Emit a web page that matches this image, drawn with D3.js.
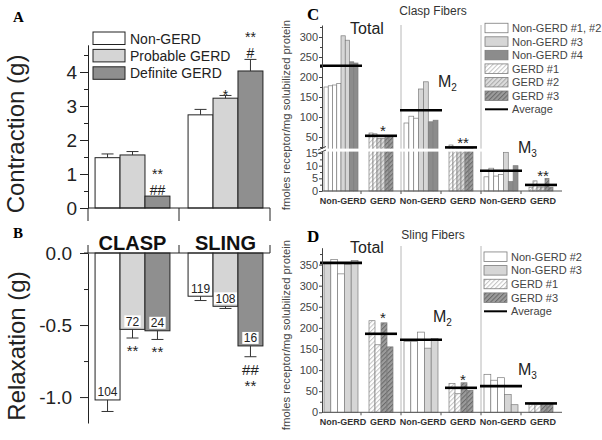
<!DOCTYPE html>
<html><head><meta charset="utf-8">
<script src="https://d3js.org/d3.v7.min.js"></script>
<style>html,body{margin:0;padding:0;background:#fff}svg{display:block}</style>
</head><body>
<svg id="chart" width="602" height="440"></svg>
<script>
// ===== Panels A & B data =====
const muscleGroups = ["CLASP", "SLING"];
const patientGroups = ["Non-GERD", "Probable GERD", "Definite GERD"];
const contractionClasp = [1.48, 1.56, 0.35];
const contractionSling = [2.74, 3.23, 4.03];
const contractionErrClasp = [0.11, 0.10, 0];
const contractionErrSling = [0.16, 0.08, 0.34];
const contractionSigClasp = [[], [], ["##", "**"]];
const contractionSigSling = [[], ["*"], ["#", "**"]];
const contractionTicks = [0, 1, 2, 3, 4];
const relaxationClasp = [-1.02, -0.53, -0.54];
const relaxationSling = [-0.30, -0.37, -0.645];
const relaxationErrClasp = [0.08, 0.06, 0.06];
const relaxationErrSling = [0.03, 0.015, 0.075];
const relaxationNClasp = [104, 72, 24];
const relaxationNSling = [119, 108, 16];
const relaxationSigClasp = [[], ["**"], ["**"]];
const relaxationSigSling = [[], [], ["##", "**"]];
const relaxationTicks = [0, -0.5, -1.0];

// ===== Panels C & D data =====
const fiberCategories = ["Total Non-GERD", "Total GERD", "M2 Non-GERD", "M2 GERD", "M3 Non-GERD", "M3 GERD"];
const fiberTickLabels = ["Non-GERD", "GERD", "Non-GERD", "GERD", "Non-GERD", "GERD"];

const claspLegend = ["Non-GERD #1, #2", "Non-GERD #3", "Non-GERD #4", "GERD #1", "GERD #2", "GERD #3"];
const claspTotalNonGerd = [175, 178, 180, 184, 303, 292, 238, 235];
const claspTotalNonGerdDonor = [0, 0, 0, 0, 1, 1, 2, 2];
const claspTotalGerd = [60, 58, 47, 47, 54, 54];
const claspM2NonGerd = [85, 102, 97, 170, 188, 88, 92];
const claspM2NonGerdDonor = [0, 0, 0, 1, 1, 2, 2];
const claspM2Gerd = [30, 23, 23, 22, 23, 22];
const claspM3NonGerd = [5.6, 9.0, 5.9, 6.5, 15.3, 3.7, 10.0];
const claspM3NonGerdDonor = [0, 0, 0, 0, 1, 2, 2];
const claspM3Gerd = [1.5, 4.0, 1.6, 1.6, 5.0, 1.5];
const claspGerdDonor = [3, 3, 4, 4, 5, 5];
const claspAverages = [228, 53, 117, 24, 8.0, 2.4];
const claspSig = ["", "*", "", "**", "", "**"];
const claspUpperTicks = [50, 100, 150, 200, 250, 300];
const claspLowerTicks = [0, 5, 10, 15];

const slingLegend = ["Non-GERD #2", "Non-GERD #3", "GERD #1", "GERD #3"];
const slingTotalNonGerd = [352, 362, 328, 350, 360];
const slingTotalNonGerdDonor = [1, 0, 0, 1, 1];
const slingTotalGerd = [217, 160, 212, 155];
const slingM2NonGerd = [168, 168, 190, 152, 175];
const slingM2NonGerdDonor = [0, 0, 0, 1, 1];
const slingM2Gerd = [68, 44, 70, 52];
const slingM3NonGerd = [90, 76, 82, 42, 18];
const slingM3NonGerdDonor = [0, 0, 0, 1, 1];
const slingM3Gerd = [19, 18, 21, 20];
const slingGerdDonor = [2, 2, 3, 3];
const slingAverages = [354, 186, 172, 58, 62, 21];
const slingSig = ["", "*", "", "*", "", ""];
const slingTicks = [0, 50, 100, 150, 200, 250, 300, 350];

// ===== drawing =====
const FONT = "'Liberation Sans', Arial, Helvetica, sans-serif";
const SERIF = "'Liberation Serif', 'Times New Roman', serif";
const svg = d3.select("#chart");
svg.append("rect").attr("width", 602).attr("height", 440).attr("fill", "#fff");
const defs = svg.append("defs");
function hatch(id, bg, fg) {
  const p = defs.append("pattern").attr("id", id).attr("patternUnits", "userSpaceOnUse")
    .attr("width", 3.2).attr("height", 3.2).attr("patternTransform", "rotate(45)");
  p.append("rect").attr("width", 3.2).attr("height", 3.2).attr("fill", bg);
  p.append("line").attr("x1", 0.5).attr("y1", 0).attr("x2", 0.5).attr("y2", 3.2)
    .attr("stroke", fg).attr("stroke-width", 1.1);
}
hatch("hw", "#ffffff", "#c4c4c4");
hatch("hl", "#dddddd", "#a9a9a9");
hatch("hd", "#9c9c9c", "#6a6a6a");

function styleAxis(g, fs, col, weight) {
  g.attr("font-family", FONT).attr("font-size", fs);
  g.selectAll("text").attr("fill", col).attr("font-weight", weight || "normal");
  g.selectAll("line").attr("stroke", col);
  g.select(".domain").attr("stroke", col);
}
function sigText(parent, x, y, s, fs) {
  parent.append("text").attr("x", x).attr("y", y).attr("text-anchor", "middle")
    .attr("font-family", FONT).attr("font-size", fs || 15).attr("fill", "#222").text(s);
}

// ---------- Panel A ----------
const xA = d3.scaleBand().domain(muscleGroups).range([88, 270]).paddingInner(0.195).paddingOuter(0.076);
const xAin = d3.scaleBand().domain(patientGroups).range([0, xA.bandwidth()]);
const fillAB = d3.scaleOrdinal().domain(patientGroups).range(["#ffffff", "#d5d5d5", "#8f8f8f"]);
const yA = d3.scaleLinear().domain([0, 4.8]).range([208, 44.8]);
const yB = d3.scaleLinear().domain([-1.18, 0]).range([423, 253]);

const rowsA = muscleGroups.flatMap((m, gi) => patientGroups.map((p, i) => ({
  m, p,
  v: gi ? contractionSling[i] : contractionClasp[i],
  e: gi ? contractionErrSling[i] : contractionErrClasp[i],
  sig: gi ? contractionSigSling[i] : contractionSigClasp[i]
})));
const rowsB = muscleGroups.flatMap((m, gi) => patientGroups.map((p, i) => ({
  m, p,
  v: gi ? relaxationSling[i] : relaxationClasp[i],
  e: gi ? relaxationErrSling[i] : relaxationErrClasp[i],
  n: gi ? relaxationNSling[i] : relaxationNClasp[i],
  sig: gi ? relaxationSigSling[i] : relaxationSigClasp[i]
})));
const cx = d => xA(d.m) + xAin(d.p) + xAin.bandwidth() / 2;

const gA = svg.append("g");
gA.selectAll("rect").data(rowsA).join("rect")
  .attr("x", d => xA(d.m) + xAin(d.p)).attr("width", xAin.bandwidth())
  .attr("y", d => yA(d.v)).attr("height", d => yA(0) - yA(d.v))
  .attr("fill", d => fillAB(d.p)).attr("stroke", "#222").attr("stroke-width", 1);
rowsA.filter(d => d.e > 0).forEach(d => {
  gA.append("line").attr("x1", cx(d)).attr("x2", cx(d)).attr("y1", yA(d.v)).attr("y2", yA(d.v + d.e)).attr("stroke", "#333");
  gA.append("line").attr("x1", cx(d) - 6).attr("x2", cx(d) + 6).attr("y1", yA(d.v + d.e)).attr("y2", yA(d.v + d.e)).attr("stroke", "#333");
});
rowsA.filter(d => d.sig.length).forEach(d => {
  const top = yA(d.v + d.e) - 1.5;
  const b0 = d.sig[0][0] === "#" ? top : top + 6.5;
  d.sig.forEach((s, k) => sigText(gA, cx(d), b0 - k * 15.9, s, 14));
});
const axA = svg.append("g").attr("transform", "translate(88,0)")
  .call(d3.axisLeft(yA).tickValues(contractionTicks).tickSize(8).tickSizeOuter(0).tickPadding(3).tickFormat(d3.format("d")));
styleAxis(axA, 19, "#222");
const axAm = svg.append("g").attr("transform", "translate(88,0)")
  .call(d3.axisLeft(yA).tickValues(d3.range(0.5, 4.8, 1)).tickSize(4).tickFormat(""));
axAm.select(".domain").remove(); styleAxis(axAm, 10, "#222");
const abEdges = [xA.range()[0], (xA("CLASP") + xA.bandwidth() + xA("SLING")) / 2, xA.range()[1]];
svg.append("line").attr("x1", abEdges[0]).attr("x2", abEdges[2]).attr("y1", yA(0)).attr("y2", yA(0)).attr("stroke", "#222");
abEdges.forEach(x => svg.append("line").attr("x1", x).attr("x2", x).attr("y1", yA(0)).attr("y2", yA(0) + 13).attr("stroke", "#222"));

// legend A
patientGroups.forEach((p, i) => {
  const y = 32 + i * 17.4;
  svg.append("rect").attr("x", 93).attr("y", y).attr("width", 32).attr("height", 12.5)
    .attr("fill", fillAB(p)).attr("stroke", "#222");
  svg.append("text").attr("x", 130).attr("y", y + 11.5).attr("font-family", FONT).attr("font-size", 14)
    .attr("fill", "#222").text(p);
});

// ---------- Panel B ----------
const gB = svg.append("g");
gB.selectAll("rect").data(rowsB).join("rect")
  .attr("x", d => xA(d.m) + xAin(d.p)).attr("width", xAin.bandwidth())
  .attr("y", yB(0)).attr("height", d => yB(d.v) - yB(0))
  .attr("fill", d => fillAB(d.p)).attr("stroke", "#222").attr("stroke-width", 1);
rowsB.forEach(d => {
  gB.append("line").attr("x1", cx(d)).attr("x2", cx(d)).attr("y1", yB(d.v)).attr("y2", yB(d.v - d.e)).attr("stroke", "#333");
  gB.append("line").attr("x1", cx(d) - 6).attr("x2", cx(d) + 6).attr("y1", yB(d.v - d.e)).attr("y2", yB(d.v - d.e)).attr("stroke", "#333");
  const t = gB.append("text").attr("x", cx(d)).attr("y", yB(d.v) - 3.5).attr("text-anchor", "middle")
    .attr("font-family", FONT).attr("font-size", 12).attr("fill", "#222").text(d.n);
  const w = t.node().getComputedTextLength();
  gB.insert("rect", "text").attr("x", cx(d) - w / 2 - 1.5).attr("y", yB(d.v) - 14).attr("width", w + 3).attr("height", 12)
    .attr("fill", "#fff");
  let cursor = yB(d.v - d.e) + 7;
  d.sig.forEach(s => {
    const base = cursor + 11;
    cursor = s[0] === "#" ? base + 5 : base - 7 + 5;
    sigText(gB, cx(d), base, s, 15);
  });
});
gB.selectAll("text").raise();
const axB = svg.append("g").attr("transform", "translate(88,0)")
  .call(d3.axisLeft(yB).tickValues(relaxationTicks).tickSize(8).tickSizeOuter(0).tickPadding(8).tickFormat(d => d.toFixed(1)));
styleAxis(axB, 19, "#222");
const axBm = svg.append("g").attr("transform", "translate(88,0)")
  .call(d3.axisLeft(yB).tickValues([-0.25, -0.75]).tickSize(4).tickFormat(""));
axBm.select(".domain").remove(); styleAxis(axBm, 10, "#222");
svg.append("line").attr("x1", 84).attr("x2", abEdges[2]).attr("y1", yB(0)).attr("y2", yB(0)).attr("stroke", "#222");
abEdges.forEach(x => svg.append("line").attr("x1", x).attr("x2", x).attr("y1", yB(0)).attr("y2", yB(0) - 8).attr("stroke", "#222"));
muscleGroups.forEach(m => svg.append("text").attr("x", xA(m) + xA.bandwidth() / 2).attr("y", 250)
  .attr("text-anchor", "middle").attr("font-family", FONT).attr("font-weight", "bold").attr("font-size", 20)
  .attr("fill", "#111").text(m));

// axis titles A/B
svg.append("text").attr("transform", "translate(24,134) rotate(-90)").attr("text-anchor", "middle")
  .attr("font-family", FONT).attr("font-size", 24).attr("fill", "#222").text("Contraction (g)");
svg.append("text").attr("transform", "translate(25,346) rotate(-90)").attr("text-anchor", "middle")
  .attr("font-family", FONT).attr("font-size", 24).attr("fill", "#222").text("Relaxation (g)");
svg.append("text").attr("x", 13).attr("y", 22).attr("font-family", SERIF).attr("font-weight", "bold").attr("font-size", 15).text("A");
svg.append("text").attr("x", 13).attr("y", 238).attr("font-family", SERIF).attr("font-weight", "bold").attr("font-size", 15).text("B");

// ---------- Panels C & D ----------
const xF = d3.scalePoint().domain(fiberCategories).range([341, 541]);
const NON_W = 34, GERD_W = 24;

function fiberPanel(cfg) {
  const g = svg.append("g");
  const base = cfg.base;
  [[1, 2], [3, 4]].forEach(([a, b]) => {
    const x = (xF(fiberCategories[a]) + xF(fiberCategories[b])) / 2;
    g.append("line").attr("x1", x).attr("x2", x).attr("y1", cfg.top).attr("y2", base).attr("stroke", "#b8b8b8").attr("stroke-width", 1);
  });
  cfg.groups.forEach((grp, gi) => {
    const cat = fiberCategories[gi];
    const w = gi % 2 === 0 ? NON_W : GERD_W;
    const inner = d3.scaleBand().domain(d3.range(grp.values.length)).range([xF(cat) - w / 2, xF(cat) + w / 2]);
    g.selectAll(null).data(grp.values.map((v, i) => ({ v, i, donor: grp.donors[i] }))).join("rect")
      .attr("x", d => inner(d.i)).attr("width", inner.bandwidth())
      .attr("y", d => cfg.y(d.v)).attr("height", d => base - cfg.y(d.v))
      .attr("fill", d => cfg.fill(cfg.legend[d.donor])).attr("stroke", "#7c7c7c").attr("stroke-width", 0.7);
  });
  cfg.after && cfg.after(g);
  cfg.groups.forEach((grp, gi) => {
    const cat = fiberCategories[gi];
    const w = (gi % 2 === 0 ? NON_W : GERD_W) / 2 + 4;
    g.append("line").attr("x1", xF(cat) - w).attr("x2", xF(cat) + w)
      .attr("y1", cfg.y(cfg.avg[gi])).attr("y2", cfg.y(cfg.avg[gi])).attr("stroke", "#000").attr("stroke-width", 2.6);
    if (cfg.sig[gi]) {
      g.append("text").attr("x", xF(cat) + 2).attr("y", cfg.y(d3.max(grp.values)) - 6 + 8.5).attr("text-anchor", "middle")
        .attr("font-family", FONT).attr("font-size", 15).attr("fill", "#222").text(cfg.sig[gi]);
    }
  });
  g.append("line").attr("x1", 322).attr("x2", 562).attr("y1", base).attr("y2", base).attr("stroke", "#555");
  for (let i = 0; i < fiberCategories.length - 1; i++) {
    const x = xF(fiberCategories[i]) + xF.step() / 2;
    g.append("line").attr("x1", x).attr("x2", x).attr("y1", base).attr("y2", base + 3).attr("stroke", "#555");
  }
  fiberCategories.forEach((c, i) => g.append("text").attr("x", xF(c) + 2).attr("y", base + cfg.labelDy)
    .attr("text-anchor", "middle").attr("font-family", FONT).attr("font-weight", "bold").attr("font-size", 9)
    .attr("fill", "#333").text(fiberTickLabels[i]));
  cfg.legend.forEach((name, i) => {
    const cy = cfg.legendY + i * cfg.legendStep;
    g.append("rect").attr("x", cfg.legendX).attr("y", cy - 4.75).attr("width", 23).attr("height", 9.5)
      .attr("fill", cfg.fill(name)).attr("stroke", "#7c7c7c").attr("stroke-width", 0.8);
    g.append("text").attr("x", cfg.legendX + 27).attr("y", cy + 4).attr("font-family", FONT).attr("font-size", 11)
      .attr("fill", "#444").text(name);
  });
  const ly = cfg.legendY + cfg.legend.length * cfg.legendStep;
  g.append("line").attr("x1", cfg.legendX).attr("x2", cfg.legendX + 23).attr("y1", ly).attr("y2", ly).attr("stroke", "#000").attr("stroke-width", 2);
  g.append("text").attr("x", cfg.legendX + 27).attr("y", ly + 4).attr("font-family", FONT).attr("font-size", 11)
    .attr("fill", "#444").text("Average");
  g.append("text").attr("x", xF(fiberCategories[0]) + 26).attr("y", cfg.totalY).attr("text-anchor", "middle")
    .attr("font-family", FONT).attr("font-size", 16).attr("fill", "#222").text("Total");
  [["2", cfg.m2X, cfg.m2Y], ["3", cfg.m3X, cfg.m3Y]].forEach(([s, x, y]) => {
    const t = g.append("text").attr("x", x).attr("y", y).attr("font-family", FONT).attr("font-size", 16).attr("fill", "#222").text("M");
    t.append("tspan").attr("font-size", 10).attr("dy", 4).text(s);
  });
  g.append("text").attr("x", 433).attr("y", cfg.titleY).attr("text-anchor", "middle").attr("font-family", FONT)
    .attr("font-size", 12).attr("fill", "#333").text(cfg.title);
  g.append("text").attr("x", 307).attr("y", cfg.letterY).attr("font-family", SERIF).attr("font-weight", "bold")
    .attr("font-size", 17).text(cfg.letter);
  g.append("text").attr("transform", `translate(290,${cfg.ylabY}) rotate(-90)`).attr("text-anchor", "middle")
    .attr("font-family", FONT).attr("font-size", 11.3).attr("fill", "#444").text("fmoles receptor/mg solubilized protein");
  return g;
}

// C scales (broken axis)
const yCU = d3.scaleLinear().domain([20, 330]).range([149, 25]);
const yCL = d3.scaleLinear().domain([0, 16]).range([191, 150.5]);
const yC = v => v > 16 ? yCU(Math.max(v, 20)) : yCL(v);
const claspFill = d3.scaleOrdinal().domain(claspLegend).range(["#ffffff", "#d6d6d6", "#8c8c8c", "url(#hw)", "url(#hl)", "url(#hd)"]);
const claspGroups = [
  { values: claspTotalNonGerd, donors: claspTotalNonGerdDonor },
  { values: claspTotalGerd, donors: claspGerdDonor },
  { values: claspM2NonGerd, donors: claspM2NonGerdDonor },
  { values: claspM2Gerd, donors: claspGerdDonor },
  { values: claspM3NonGerd, donors: claspM3NonGerdDonor },
  { values: claspM3Gerd, donors: claspGerdDonor }
];
fiberPanel({
  groups: claspGroups, avg: claspAverages, sig: claspSig, legend: claspLegend, fill: claspFill,
  y: yC, base: yCL(0), top: 25, labelDy: 12.5,
  legendX: 485, legendY: 28, legendStep: 13.55,
  totalY: 33.5, m2X: 438, m2Y: 87, m3X: 518, m3Y: 153,
  title: "Clasp Fibers", titleY: 15, letter: "C", letterY: 20, ylabY: 115,
  after: g => {
    g.append("rect").attr("x", 323).attr("y", 148.6).attr("width", 240).attr("height", 3).attr("fill", "#fff");
  }
});
const axCU = svg.append("g").attr("transform", "translate(322,0)")
  .call(d3.axisLeft(yCU).tickValues(claspUpperTicks).tickSize(3).tickSizeOuter(0).tickPadding(1));
styleAxis(axCU, 11, "#444");
const axCUm = svg.append("g").attr("transform", "translate(322,0)")
  .call(d3.axisLeft(yCU).tickValues(d3.range(25, 330, 50)).tickSize(2).tickFormat(""));
axCUm.select(".domain").remove(); styleAxis(axCUm, 10, "#444");
const axCL = svg.append("g").attr("transform", "translate(322,0)")
  .call(d3.axisLeft(yCL).tickValues(claspLowerTicks).tickSize(3).tickSizeOuter(0).tickPadding(1));
styleAxis(axCL, 11, "#444");
const axCLm = svg.append("g").attr("transform", "translate(322,0)")
  .call(d3.axisLeft(yCL).tickValues([2.5, 7.5, 12.5]).tickSize(2).tickFormat(""));
axCLm.select(".domain").remove(); styleAxis(axCLm, 10, "#444");
svg.append("rect").attr("x", 318).attr("y", 148.8).attr("width", 8).attr("height", 2.6).attr("fill", "#fff");
svg.append("line").attr("x1", 318).attr("x2", 326).attr("y1", 150).attr("y2", 146.5).attr("stroke", "#444");
svg.append("line").attr("x1", 318).attr("x2", 326).attr("y1", 153.5).attr("y2", 150).attr("stroke", "#444");

// D
const yD = d3.scaleLinear().domain([0, 390]).range([412.3, 247.7]);
const slingFill = d3.scaleOrdinal().domain(slingLegend).range(["#ffffff", "#d6d6d6", "url(#hw)", "url(#hd)"]);
const slingGroups = [
  { values: slingTotalNonGerd, donors: slingTotalNonGerdDonor },
  { values: slingTotalGerd, donors: slingGerdDonor },
  { values: slingM2NonGerd, donors: slingM2NonGerdDonor },
  { values: slingM2Gerd, donors: slingGerdDonor },
  { values: slingM3NonGerd, donors: slingM3NonGerdDonor },
  { values: slingM3Gerd, donors: slingGerdDonor }
];
fiberPanel({
  groups: slingGroups, avg: slingAverages, sig: slingSig, legend: slingLegend, fill: slingFill,
  y: yD, base: yD(0), top: 246, labelDy: 12.5,
  legendX: 484, legendY: 256.7, legendStep: 13.65,
  totalY: 253, m2X: 433, m2Y: 322, m3X: 518, m3Y: 375,
  title: "Sling Fibers", titleY: 239, letter: "D", letterY: 242, ylabY: 335
});
const axD = svg.append("g").attr("transform", "translate(322,0)")
  .call(d3.axisLeft(yD).tickValues(slingTicks).tickSize(3).tickSizeOuter(0).tickPadding(1));
styleAxis(axD, 11, "#444");
const axDm = svg.append("g").attr("transform", "translate(322,0)")
  .call(d3.axisLeft(yD).tickValues(d3.range(25, 390, 50)).tickSize(2).tickFormat(""));
axDm.select(".domain").remove(); styleAxis(axDm, 10, "#444");
</script>
</body></html>
